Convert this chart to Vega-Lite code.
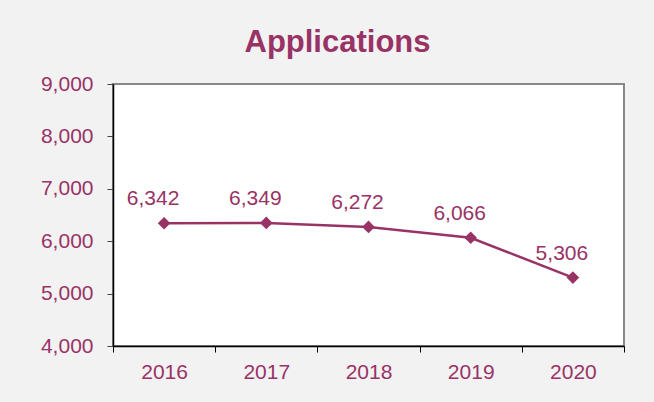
{
  "$schema": "https://vega.github.io/schema/vega-lite/v6.json",
  "autosize": "none",
  "width": 511,
  "height": 262,
  "padding": {"left": 113, "top": 84, "right": 30, "bottom": 56},
  "background": "#f2f2f2",
  "title": {
    "text": "Applications",
    "font": "Liberation Sans",
    "fontSize": 31,
    "fontWeight": "bold",
    "color": "#993366",
    "anchor": "middle",
    "frame": "group",
    "baseline": "alphabetic",
    "offset": 31,
    "dx": -31,
    "dy": 41
  },
  "config": {
    "view": {"fill": "white", "stroke": "#888888", "strokeWidth": 2},
    "font": "Liberation Sans"
  },
  "data": {
    "values": [
      {"year": "2016", "applications": 6342},
      {"year": "2017", "applications": 6349},
      {"year": "2018", "applications": 6272},
      {"year": "2019", "applications": 6066},
      {"year": "2020", "applications": 5306}
    ]
  },
  "encoding": {
    "x": {
      "field": "year",
      "type": "ordinal",
      "scale": {"type": "band", "paddingInner": 0, "paddingOuter": 0},
      "axis": {
        "title": null,
        "labelAngle": 0,
        "labelFont": "Liberation Sans",
        "labelFontSize": 21,
        "labelColor": "#993366",
        "labelPadding": 9,
        "domainColor": "#000000",
        "domainWidth": 1.5,
        "tickColor": "#000000",
        "tickWidth": 1,
        "tickSize": 6,
        "tickBand": "extent",
        "grid": false
      }
    },
    "y": {
      "field": "applications",
      "type": "quantitative",
      "scale": {"domain": [4000, 9000], "nice": false, "zero": false},
      "axis": {
        "title": null,
        "values": [4000, 5000, 6000, 7000, 8000, 9000],
        "format": ",.0f",
        "labelFont": "Liberation Sans",
        "labelFontSize": 21,
        "labelColor": "#993366",
        "labelPadding": 14,
        "domainColor": "#000000",
        "domainWidth": 1.5,
        "tickColor": "#444444",
        "tickWidth": 1,
        "tickSize": 6,
        "grid": false
      }
    }
  },
  "layer": [
    {
      "mark": {"type": "line", "color": "#993366", "strokeWidth": 2.5}
    },
    {
      "mark": {"type": "point", "shape": "diamond", "filled": true, "color": "#993366", "size": 160, "opacity": 1}
    },
    {
      "mark": {"type": "text", "color": "#993366", "font": "Liberation Sans", "fontSize": 21, "baseline": "alphabetic", "align": "center", "dx": -11, "dy": -18},
      "encoding": {"text": {"field": "applications", "type": "quantitative", "format": ","}}
    }
  ]
}
